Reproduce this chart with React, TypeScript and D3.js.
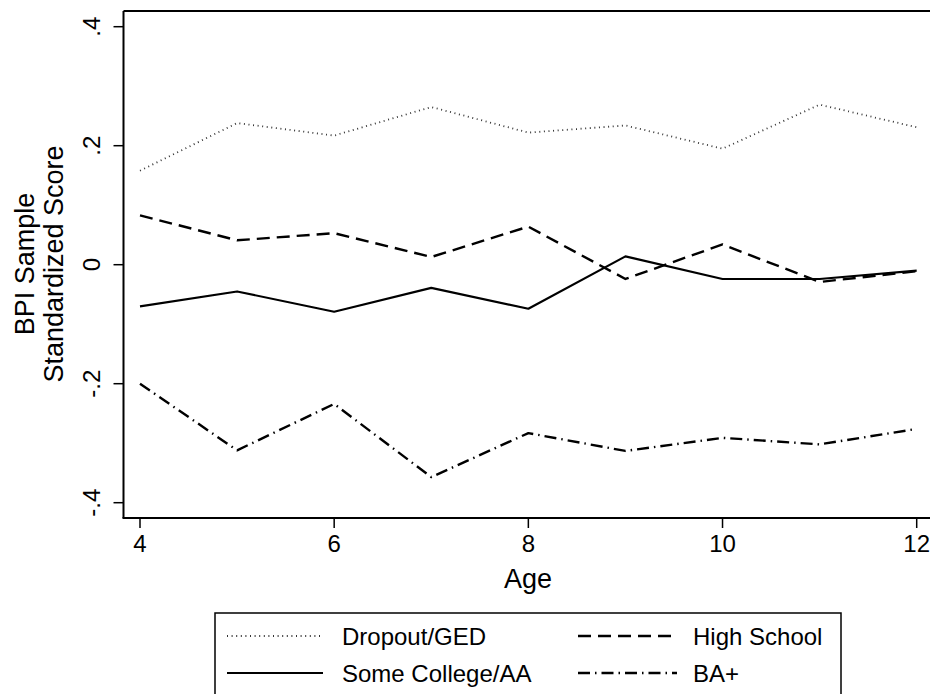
import React from "react";
import * as d3 from "d3";

const ages = [4, 5, 6, 7, 8, 9, 10, 11, 12];
const dropoutGED = [0.158, 0.238, 0.217, 0.265, 0.222, 0.234, 0.195, 0.269, 0.231];
const highSchool = [0.083, 0.041, 0.053, 0.013, 0.064, -0.024, 0.034, -0.029, -0.011];
const someCollege = [-0.07, -0.045, -0.079, -0.039, -0.074, 0.014, -0.024, -0.024, -0.01];
const baPlus = [-0.2, -0.312, -0.234, -0.357, -0.283, -0.313, -0.291, -0.302, -0.276];
const xTicks = [4, 6, 8, 10, 12];
const yTicks = [-0.4, -0.2, 0, 0.2, 0.4];
const yTickLabels = ["-.4", "-.2", "0", ".2", ".4"];

const seriesNames = ["Dropout/GED", "High School", "Some College/AA", "BA+"];

const styles = [
  { stroke: "#333", width: 1.8, dash: "1 3.6" },
  { stroke: "#000", width: 2.4, dash: "13 7" },
  { stroke: "#000", width: 2.2, dash: "" },
  { stroke: "#000", width: 2.4, dash: "12 5 1.5 5" },
];

export default function App() {
  const W = 930, H = 694;
  const left = 123.5, top = 11, bottom = 518;
  const x = d3.scaleLinear().domain([4, 12]).range([140, 916.7]);
  const y = d3.scaleLinear().domain([-0.4, 0.4]).range([502.7, 26.7]);
  const data = [dropoutGED, highSchool, someCollege, baPlus];
  const line = d3.line<number>().x((_, i) => x(ages[i])).y((v) => y(v));
  const font = "'Liberation Sans', Arial, Helvetica, sans-serif";

  const legendItems = [
    { idx: 0, lx1: 227, lx2: 323, tx: 342, ty: 645 },
    { idx: 1, lx1: 578, lx2: 677, tx: 693, ty: 645 },
    { idx: 2, lx1: 227, lx2: 323, tx: 342, ty: 682 },
    { idx: 3, lx1: 578, lx2: 677, tx: 693, ty: 682 },
  ];

  return (
    <svg width={W} height={H} style={{ position: "absolute", left: 0, top: 0, display: "block", background: "#fff" }} fontFamily={font}>
      <rect x={0} y={0} width={W} height={H} fill="#fff" />
      {/* frame */}
      <line x1={left} y1={top} x2={W + 5} y2={top} stroke="#000" strokeWidth={1.8} />
      <line x1={left} y1={top} x2={left} y2={bottom} stroke="#000" strokeWidth={2} />
      <line x1={left - 1} y1={bottom} x2={W + 5} y2={bottom} stroke="#000" strokeWidth={2} />
      {/* y ticks */}
      {yTicks.map((t, i) => (
        <g key={"y" + i}>
          <line x1={left - 10} x2={left} y1={y(t)} y2={y(t)} stroke="#000" strokeWidth={1.5} />
          <text transform={`translate(${100},${y(t)}) rotate(-90)`} textAnchor="middle" fontSize={24} fill="#000">
            {yTickLabels[i]}
          </text>
        </g>
      ))}
      {/* x ticks */}
      {xTicks.map((t) => (
        <g key={"x" + t}>
          <line x1={x(t)} x2={x(t)} y1={bottom} y2={bottom + 10} stroke="#000" strokeWidth={1.5} />
          <text x={x(t)} y={552} textAnchor="middle" fontSize={24} fill="#000">
            {t}
          </text>
        </g>
      ))}
      {/* axis titles */}
      <text x={528} y={588} textAnchor="middle" fontSize={27} fill="#000">Age</text>
      <text transform={`translate(34,264) rotate(-90)`} textAnchor="middle" fontSize={27} fill="#000">BPI Sample</text>
      <text transform={`translate(63,264) rotate(-90)`} textAnchor="middle" fontSize={27} fill="#000">Standardized Score</text>
      {/* series */}
      {data.map((d, i) => (
        <path key={"s" + i} d={line(d) || ""} fill="none" stroke={styles[i].stroke} strokeWidth={styles[i].width}
          strokeDasharray={styles[i].dash || undefined} strokeLinejoin="round" />
      ))}
      {/* legend */}
      <rect x={215} y={613} width={626} height={100} fill="none" stroke="#000" strokeWidth={1.5} />
      {legendItems.map((it) => (
        <g key={"l" + it.idx}>
          <line x1={it.lx1} x2={it.lx2} y1={it.ty - 9} y2={it.ty - 9} stroke={styles[it.idx].stroke}
            strokeWidth={styles[it.idx].width} strokeDasharray={styles[it.idx].dash || undefined} />
          <text x={it.tx} y={it.ty} fontSize={24} fill="#000">{seriesNames[it.idx]}</text>
        </g>
      ))}
    </svg>
  );
}
